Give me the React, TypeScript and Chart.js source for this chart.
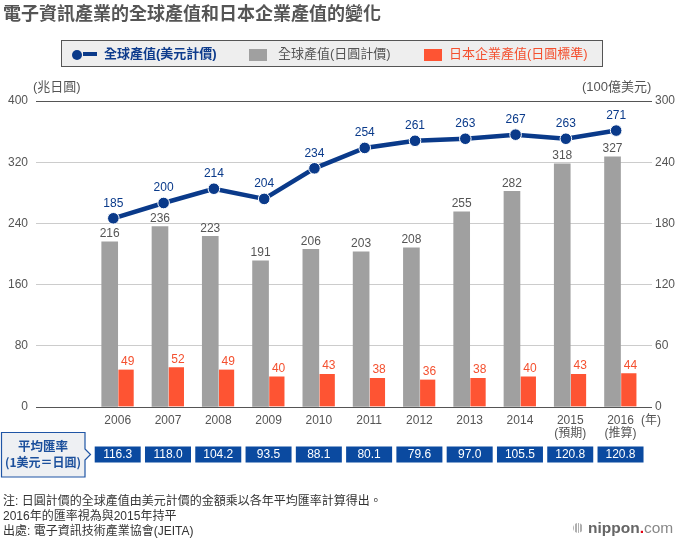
import React, { useEffect, useRef } from 'react';
import { Chart, registerables } from 'chart.js';

Chart.register(...registerables);

// ---------- data ----------
const years = ['2006', '2007', '2008', '2009', '2010', '2011', '2012', '2013', '2014', '2015', '2016'];
const yearNotes = ['', '', '', '', '', '', '', '', '', '(預期)', '(推算)'];
const globalUsd = [185, 200, 214, 204, 234, 254, 261, 263, 267, 263, 271];
const globalJpy = [216, 236, 223, 191, 206, 203, 208, 255, 282, 318, 327];
const japanJpy = [49, 52, 49, 40, 43, 38, 36, 38, 40, 43, 44];
const exchangeRates = ['116.3', '118.0', '104.2', '93.5', '88.1', '80.1', '79.6', '97.0', '105.5', '120.8', '120.8'];
const leftTicks = [0, 80, 160, 240, 320, 400];
const rightTicks = [0, 60, 120, 180, 240, 300];

// ---------- styles ----------
const LATIN = "'Liberation Sans', 'Noto Sans CJK TC', sans-serif";
const CJK = "'Noto Sans CJK TC', 'Liberation Sans', sans-serif";
const BLUE = '#0a3a8a';
const GRAY = '#a0a0a0';
const RED = '#fe5433';
const TEXT = '#555555';
const BOX_BLUE = '#0b4aa0';

const labelPlugin = {
  id: 'valueLabels',
  afterDatasetsDraw(chart: any) {
    const ctx = chart.ctx;
    ctx.save();
    ctx.textAlign = 'center';
    ctx.textBaseline = 'middle';
    ctx.font = `12px ${LATIN}`;
    const grayMeta = chart.getDatasetMeta(1);
    grayMeta.data.forEach((el: any, i: number) => {
      ctx.fillStyle = TEXT;
      ctx.fillText(String(globalJpy[i]), el.x, el.y - 8);
    });
    const redMeta = chart.getDatasetMeta(2);
    redMeta.data.forEach((el: any, i: number) => {
      ctx.fillStyle = '#f4502f';
      ctx.fillText(String(japanJpy[i]), el.x + 2, el.y - 8);
    });
    const lineMeta = chart.getDatasetMeta(0);
    lineMeta.data.forEach((el: any, i: number) => {
      ctx.fillStyle = BLUE;
      ctx.fillText(String(globalUsd[i]), el.x, el.y - 15);
    });
    ctx.restore();
  },
};

const ratePlugin = {
  id: 'rateRow',
  afterDraw(chart: any) {
    const ctx = chart.ctx;
    const xs = chart.scales.x;
    ctx.save();
    // label box with arrow
    ctx.beginPath();
    ctx.moveTo(1.5, 432.5);
    ctx.lineTo(85, 432.5);
    ctx.lineTo(85, 449);
    ctx.lineTo(90.5, 454.5);
    ctx.lineTo(85, 460);
    ctx.lineTo(85, 477);
    ctx.lineTo(1.5, 477);
    ctx.closePath();
    ctx.fillStyle = '#eef0f3';
    ctx.fill();
    ctx.strokeStyle = '#1f55a5';
    ctx.lineWidth = 1.2;
    ctx.stroke();
    ctx.fillStyle = '#1b4f9c';
    ctx.textAlign = 'center';
    ctx.textBaseline = 'middle';
    ctx.font = `bold 12.5px ${CJK}`;
    ctx.fillText('平均匯率', 43, 446);
    ctx.font = `bold 12px ${CJK}`;
    ctx.fillText('(1美元＝日圓)', 43, 462);
    // rate boxes
    ctx.font = `12px ${LATIN}`;
    years.forEach((y, i) => {
      const px = xs.getPixelForValue(Number(y));
      ctx.fillStyle = BOX_BLUE;
      ctx.fillRect(px - 23, 446.5, 46, 16);
      ctx.fillStyle = '#ffffff';
      ctx.fillText(exchangeRates[i], px, 455);
    });
    ctx.restore();
  },
};

export default function App() {
  const canvasRef = useRef<HTMLCanvasElement | null>(null);

  useEffect(() => {
    if (!canvasRef.current) return;
    const chart = new Chart(canvasRef.current, {
      type: 'bar',
      data: {
        labels: years,
        datasets: [
          {
            type: 'line',
            label: '全球產值(美元計價)',
            data: globalUsd,
            xAxisID: 'xLine',
            yAxisID: 'yR',
            borderColor: BLUE,
            backgroundColor: BLUE,
            borderWidth: 4.5,
            pointRadius: 5.8,
            pointBackgroundColor: BLUE,
            pointBorderColor: '#ffffff',
            pointBorderWidth: 1,
            tension: 0,
          } as any,
          {
            type: 'bar',
            label: '全球產值(日圓計價)',
            data: globalJpy,
            xAxisID: 'x',
            yAxisID: 'yL',
            backgroundColor: GRAY,
            borderWidth: 0,
            barThickness: 16,
          } as any,
          {
            type: 'bar',
            label: '日本企業產值(日圓標準)',
            data: japanJpy,
            xAxisID: 'x',
            yAxisID: 'yL',
            backgroundColor: RED,
            borderColor: '#ffffff',
            borderWidth: { left: 1, top: 0, right: 0, bottom: 0 },
            borderSkipped: false,
            barThickness: 16,
          } as any,
        ],
      },
      options: {
        responsive: false,
        animation: false,
        layout: { padding: { left: 0, right: 0, top: 101, bottom: 93 } },
        plugins: {
          legend: { display: false },
          tooltip: { enabled: false },
        },
        scales: {
          x: {
            type: 'linear',
            position: 'bottom',
            offset: false,
            min: Number(years[0]) - 1.625,
            max: Number(years[years.length - 1]) + 0.626,
            afterBuildTicks: (axis: any) => {
              axis.ticks = years.map((y) => ({ value: Number(y) }));
            },
            afterFit: (s: any) => {
              s.height = 40;
            },
            grid: { display: false, drawTicks: false },
            border: { display: false },
            ticks: {
              autoSkip: false,
              maxRotation: 0,
              minRotation: 0,
              padding: 7,
              color: TEXT,
              font: { size: 12, family: LATIN, lineHeight: 1.12 },
              callback: (v: any) => {
                const i = years.indexOf(String(v));
                if (i < 0) return '';
                return yearNotes[i] ? [years[i], yearNotes[i]] : years[i];
              },
            },
          },
          xLine: {
            type: 'linear',
            display: false,
            offset: false,
            min: Number(years[0]) - 1.538,
            max: Number(years[years.length - 1]) + 0.713,
          },
          yL: {
            type: 'linear',
            position: 'left',
            min: leftTicks[0],
            max: leftTicks[leftTicks.length - 1],
            afterBuildTicks: (axis: any) => {
              axis.ticks = leftTicks.map((v) => ({ value: v }));
            },
            afterFit: (s: any) => {
              s.width = 36;
            },
            border: { display: false },
            grid: {
              drawTicks: false,
              lineWidth: 1,
              color: (c: any) =>
                c.tick && (c.tick.value === leftTicks[0] || c.tick.value === leftTicks[leftTicks.length - 1])
                  ? '#555555'
                  : '#cccccc',
            },
            ticks: { padding: 8, color: TEXT, font: { size: 12, family: LATIN } },
          },
          yR: {
            type: 'linear',
            position: 'right',
            min: rightTicks[0],
            max: rightTicks[rightTicks.length - 1],
            afterBuildTicks: (axis: any) => {
              axis.ticks = rightTicks.map((v) => ({ value: v }));
            },
            afterFit: (s: any) => {
              s.width = 28;
            },
            border: { display: false },
            grid: { display: false, drawTicks: false },
            ticks: { padding: 3, color: TEXT, font: { size: 12, family: LATIN } },
          },
        },
      } as any,
      plugins: [labelPlugin, ratePlugin],
    });
    return () => chart.destroy();
  }, []);

  const abs = (s: React.CSSProperties): React.CSSProperties => ({ position: 'absolute', whiteSpace: 'nowrap', ...s });

  return (
    <div style={{ position: 'absolute', left: 0, top: 0, width: 680, height: 540, background: '#ffffff', overflow: 'hidden' }}>
      <canvas ref={canvasRef} width={680} height={540} style={{ position: 'absolute', left: 0, top: 0 }} />
      <div style={{ position: 'absolute', left: 0, top: 0, width: 680, height: 540, pointerEvents: 'none' }}>
        {/* title */}
        <div style={abs({ left: 3, top: 2, fontFamily: CJK, fontSize: 18, fontWeight: 'bold', lineHeight: '21px', color: '#555555' })}>
          電子資訊產業的全球產值和日本企業產值的變化
        </div>
        {/* legend */}
        <div style={abs({ left: 61, top: 40, width: 542, height: 27, boxSizing: 'border-box', border: '1px solid #555555', background: '#eeeeee' })} />
        <div style={abs({ left: 71.5, top: 49.5, width: 10, height: 10, borderRadius: '50%', background: BLUE })} />
        <div style={abs({ left: 83, top: 52, width: 13.5, height: 4, background: BLUE })} />
        <div style={abs({ left: 104, top: 45, lineHeight: '18px', fontFamily: LATIN, fontSize: 13, fontWeight: 'bold', color: '#0d3b8c' })}>
          全球產值(美元計價)
        </div>
        <div style={abs({ left: 248.5, top: 49, width: 18.5, height: 11.5, background: GRAY })} />
        <div style={abs({ left: 278, top: 45, lineHeight: '18px', fontFamily: LATIN, fontSize: 13, color: TEXT })}>
          全球產值(日圓計價)
        </div>
        <div style={abs({ left: 423.5, top: 49, width: 18, height: 11.5, background: RED })} />
        <div style={abs({ left: 449, top: 45, lineHeight: '18px', fontFamily: LATIN, fontSize: 13, color: '#f4502f' })}>
          日本企業產值(日圓標準)
        </div>
        {/* axis units */}
        <div style={abs({ left: 33, top: 78, lineHeight: '17px', fontFamily: LATIN, fontSize: 13, color: TEXT })}>(兆日圓)</div>
        <div style={abs({ left: 582, top: 78, lineHeight: '17px', fontFamily: LATIN, fontSize: 13, color: TEXT })}>(100億美元)</div>
        <div style={abs({ left: 641, top: 412, lineHeight: '17px', fontFamily: LATIN, fontSize: 12, color: TEXT })}>(年)</div>
        {/* footnotes */}
        <div style={abs({ left: 3, top: 494, lineHeight: '15px', fontFamily: LATIN, fontSize: 12, color: '#333333' })}>
          <div>注: 日圓計價的全球產值由美元計價的金額乘以各年平均匯率計算得出。</div>
          <div>2016年的匯率視為與2015年持平</div>
          <div>出處: 電子資訊技術產業協會(JEITA)</div>
        </div>
        {/* logo */}
        <div
          style={abs({
            left: 573,
            top: 523,
            width: 10,
            height: 10,
            borderRadius: '50%',
            background: 'repeating-linear-gradient(90deg, #b0b0b0 0px, #b0b0b0 1.5px, #ffffff 1.5px, #ffffff 2.5px)',
          })}
        />
        <div style={abs({ left: 588, top: 518, lineHeight: '20px', fontFamily: LATIN, fontSize: 15.5, color: '#666666' })}>
          <span style={{ fontWeight: 'bold' }}>nippon</span>
          <span style={{ color: '#e60012', fontWeight: 'bold' }}>.</span>
          <span style={{ color: '#888888' }}>com</span>
        </div>
      </div>
    </div>
  );
}
